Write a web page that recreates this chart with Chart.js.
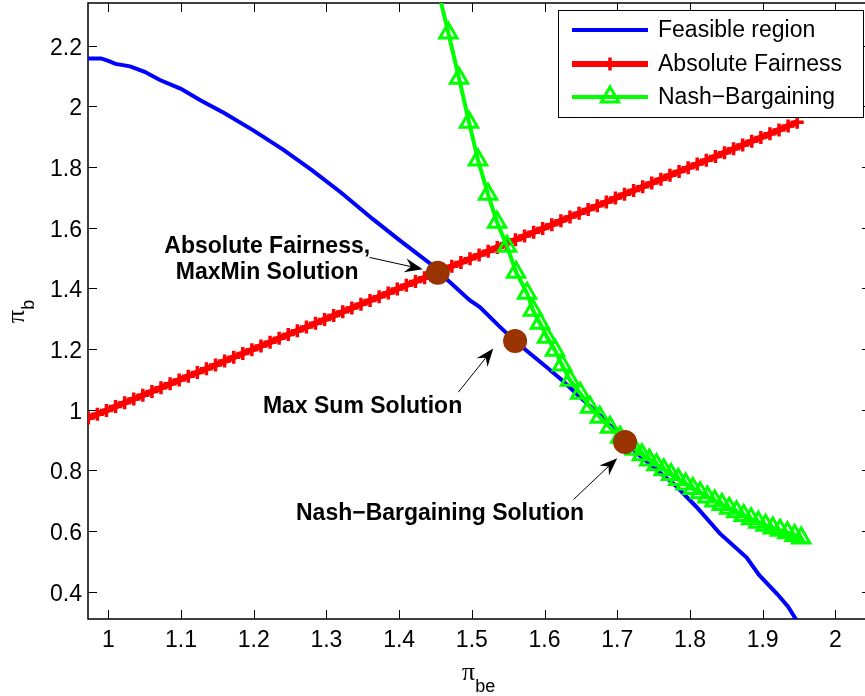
<!DOCTYPE html>
<html>
<head>
<meta charset="utf-8">
<script src="https://cdn.jsdelivr.net/npm/chart.js@4.4.1/dist/chart.umd.min.js"></script>
<style>
  html, body { margin: 0; padding: 0; background: #fff; overflow: hidden; }
  #wrap { position: relative; width: 880px; height: 696px; }
</style>
</head>
<body>
<div id="wrap"><canvas id="chart"></canvas></div>
<script>
// feasible region boundary (blue)
const feasibleX = [0.96, 0.99, 1.00, 1.01, 1.03, 1.05, 1.071, 1.10, 1.126, 1.16, 1.20, 1.24, 1.28, 1.32, 1.364,
  1.40, 1.442, 1.4531, 1.47, 1.497, 1.511, 1.539, 1.5595, 1.58, 1.603, 1.625, 1.649, 1.675, 1.6998, 1.7275,
  1.76, 1.78, 1.809, 1.841, 1.878, 1.895, 1.92, 1.935, 1.948, 1.955];
const feasibleY = [2.158, 2.158, 2.150, 2.140, 2.132, 2.114, 2.087, 2.058, 2.021, 1.977, 1.920, 1.858, 1.790, 1.716, 1.628,
  1.560, 1.483, 1.455, 1.420, 1.361, 1.338, 1.272, 1.226, 1.185, 1.140, 1.095, 1.041, 0.985, 0.925, 0.855,
  0.790, 0.750, 0.679, 0.592, 0.512, 0.455, 0.392, 0.350, 0.300, 0.280];

// absolute fairness line (red)
const fairX = [0.9600, 0.9725, 0.9850, 0.9975, 1.0100, 1.0225, 1.0350, 1.0475, 1.0600, 1.0725, 1.0850, 1.0975,
  1.1100, 1.1225, 1.1350, 1.1475, 1.1600, 1.1725, 1.1850, 1.1975, 1.2100, 1.2225, 1.2350, 1.2475, 1.2600, 1.2725,
  1.2850, 1.2975, 1.3100, 1.3225, 1.3350, 1.3475, 1.3600, 1.3725, 1.3850, 1.3975, 1.4100, 1.4225, 1.4350, 1.4475,
  1.4600, 1.4725, 1.4850, 1.4975, 1.5100, 1.5225, 1.5350, 1.5475, 1.5600, 1.5725, 1.5850, 1.5975, 1.6100, 1.6225,
  1.6350, 1.6475, 1.6600, 1.6725, 1.6850, 1.6975, 1.7100, 1.7225, 1.7350, 1.7475, 1.7600, 1.7725, 1.7850, 1.7975,
  1.8100, 1.8225, 1.8350, 1.8475, 1.8600, 1.8725, 1.8850, 1.8975, 1.9100, 1.9225, 1.9350, 1.9475];
const fairY = [0.9600, 0.9725, 0.9850, 0.9975, 1.0100, 1.0225, 1.0350, 1.0475, 1.0600, 1.0725, 1.0850, 1.0975,
  1.1100, 1.1225, 1.1350, 1.1475, 1.1600, 1.1725, 1.1850, 1.1975, 1.2100, 1.2225, 1.2350, 1.2475, 1.2600, 1.2725,
  1.2850, 1.2975, 1.3100, 1.3225, 1.3350, 1.3475, 1.3600, 1.3725, 1.3850, 1.3975, 1.4100, 1.4225, 1.4350, 1.4475,
  1.4600, 1.4725, 1.4850, 1.4975, 1.5100, 1.5225, 1.5350, 1.5475, 1.5600, 1.5725, 1.5850, 1.5975, 1.6100, 1.6225,
  1.6350, 1.6475, 1.6600, 1.6725, 1.6850, 1.6975, 1.7100, 1.7225, 1.7350, 1.7475, 1.7600, 1.7725, 1.7850, 1.7975,
  1.8100, 1.8225, 1.8350, 1.8475, 1.8600, 1.8725, 1.8850, 1.8975, 1.9100, 1.9225, 1.9350, 1.9475];

// nash bargaining curve (green)
const nashX = [1.452, 1.4677, 1.4824, 1.4961, 1.5085, 1.5223, 1.5347, 1.5484, 1.5608, 1.5759, 1.5841, 1.5937,
  1.6034, 1.6144, 1.624, 1.635, 1.649, 1.6625, 1.676, 1.690, 1.704, 1.714, 1.724, 1.734, 1.744, 1.754, 1.764,
  1.774, 1.784, 1.794, 1.804, 1.814, 1.824, 1.834, 1.844, 1.854, 1.864, 1.874, 1.884, 1.894, 1.904, 1.914,
  1.924, 1.934, 1.944, 1.953];
const nashY = [2.400, 2.242, 2.093, 1.948, 1.823, 1.710, 1.618, 1.539, 1.453, 1.384, 1.328, 1.285,
  1.239, 1.196, 1.147, 1.097, 1.054, 1.008, 0.975, 0.942, 0.909, 0.888, 0.869, 0.851, 0.834, 0.818, 0.802,
  0.786, 0.770, 0.755, 0.740, 0.726, 0.712, 0.699, 0.687, 0.675, 0.663, 0.651, 0.640, 0.629, 0.619, 0.610,
  0.602, 0.594, 0.585, 0.577];

// the three solution points
const solutionX = [1.4531, 1.5595, 1.7107];
const solutionY = [1.451, 1.226, 0.8935];

const xTicks = [1, 1.1, 1.2, 1.3, 1.4, 1.5, 1.6, 1.7, 1.8, 1.9, 2];
const xTickLabels = ['1', '1.1', '1.2', '1.3', '1.4', '1.5', '1.6', '1.7', '1.8', '1.9', '2'];
const yTicks = [0.4, 0.6, 0.8, 1, 1.2, 1.4, 1.6, 1.8, 2, 2.2];
const yTickLabels = ['0.4', '0.6', '0.8', '1', '1.2', '1.4', '1.6', '1.8', '2', '2.2'];

const seriesLabels = ['Feasible region', 'Absolute Fairness', 'Nash\u2212Bargaining'];
const noteTexts = [['Absolute Fairness,', 'MaxMin Solution'], ['Max Sum Solution'], ['Nash\u2212Bargaining Solution']];

const FONT = '"Liberation Sans", Arial, Helvetica, sans-serif';

// annotation anchors, in data units
const notes = [
  { x: 1.2186, y: 1.516, gap: 26 },
  { x: 1.3497, y: 0.988, gap: 26 },
  { x: 1.4563, y: 0.635, gap: 26 },
];
const arrows = [
  { from: [1.3595, 1.5018], to: [1.4325, 1.463] },
  { from: [1.4814, 1.0575], to: [1.5295, 1.2017] },
  { from: [1.640, 0.704], to: [1.700, 0.840] },
];

const pts = (xs, ys) => xs.map((x, i) => ({ x, y: ys[i] }));

function drawArrow(ctx, x0, y0, x1, y1) {
  const ang = Math.atan2(y1 - y0, x1 - x0);
  const c = Math.cos(ang);
  const s = Math.sin(ang);
  const L = 18; const W = 7; const N = 12;
  const at = (along, across) => [x1 - along * c - across * s, y1 - along * s + across * c];
  ctx.beginPath();
  ctx.moveTo(x0, y0);
  ctx.lineTo(...at(N, 0));
  ctx.stroke();
  ctx.beginPath();
  ctx.moveTo(x1, y1);
  ctx.lineTo(...at(L, W));
  ctx.lineTo(...at(N, 0));
  ctx.lineTo(...at(L, -W));
  ctx.closePath();
  ctx.fill();
}

// axes box with inward ticks and tick labels, matlab style
const framePlugin = {
  id: 'frame',
  beforeDatasetsDraw(chart) {
    const { ctx, chartArea: a, scales: { x, y } } = chart;
    ctx.save();
    ctx.strokeStyle = '#000';
    ctx.lineWidth = 1;
    ctx.beginPath();
    xTicks.forEach((v) => {
      const px = Math.round(x.getPixelForValue(v)) + 0.5;
      ctx.moveTo(px, a.bottom); ctx.lineTo(px, a.bottom - 9);
      ctx.moveTo(px, a.top); ctx.lineTo(px, a.top + 9);
    });
    yTicks.forEach((v) => {
      const py = Math.round(y.getPixelForValue(v)) + 0.5;
      ctx.moveTo(a.left, py); ctx.lineTo(a.left + 9, py);
      ctx.moveTo(a.right, py); ctx.lineTo(a.right - 9, py);
    });
    ctx.stroke();
    ctx.lineWidth = 1.5;
    ctx.strokeRect(a.left, a.top, a.right - a.left, a.bottom - a.top);

    ctx.fillStyle = '#000';
    ctx.font = `23px ${FONT}`;
    ctx.textAlign = 'center';
    ctx.textBaseline = 'alphabetic';
    xTicks.forEach((v, i) => ctx.fillText(xTickLabels[i], x.getPixelForValue(v), a.bottom + 28));
    ctx.textAlign = 'right';
    yTicks.forEach((v, i) => ctx.fillText(yTickLabels[i], a.left - 6, y.getPixelForValue(v) + 9));
    ctx.restore();
  },
};

const overlayPlugin = {
  id: 'overlay',
  afterDatasetsDraw(chart) {
    const { ctx, chartArea: a, scales: { x, y } } = chart;
    ctx.save();

    // arrows
    ctx.strokeStyle = '#000';
    ctx.fillStyle = '#000';
    ctx.lineWidth = 1;
    arrows.forEach((ar) => {
      drawArrow(ctx, x.getPixelForValue(ar.from[0]), y.getPixelForValue(ar.from[1]),
        x.getPixelForValue(ar.to[0]), y.getPixelForValue(ar.to[1]));
    });

    // bold notes
    ctx.font = `bold 23px ${FONT}`;
    ctx.textAlign = 'center';
    ctx.textBaseline = 'alphabetic';
    notes.forEach((n, i) => {
      const px = x.getPixelForValue(n.x);
      const py = y.getPixelForValue(n.y);
      noteTexts[i].forEach((line, j) => ctx.fillText(line, px, py + j * n.gap));
    });

    // legend
    const ds = chart.data.datasets;
    const box = { left: 558, top: 10, right: a.right - 8, bottom: 117 };
    ctx.fillStyle = '#fff';
    ctx.fillRect(box.left, box.top, box.right - box.left, box.bottom - box.top);
    ctx.strokeStyle = '#000';
    ctx.lineWidth = 1;
    ctx.strokeRect(box.left + 0.5, box.top + 0.5, box.right - box.left, box.bottom - box.top);
    const rows = [30, 64, 97];
    ctx.font = `23px ${FONT}`;
    ctx.textAlign = 'left';
    ctx.textBaseline = 'middle';
    for (let i = 0; i < 3; i += 1) {
      const d = ds[i];
      const ry = rows[i];
      ctx.strokeStyle = d.borderColor;
      ctx.lineWidth = d.borderWidth;
      ctx.beginPath();
      ctx.moveTo(572, ry);
      ctx.lineTo(648, ry);
      ctx.stroke();
      if (d.pointRadius > 0) {
        ctx.strokeStyle = d.pointBorderColor;
        ctx.fillStyle = d.pointBackgroundColor;
        ctx.lineWidth = d.pointBorderWidth;
        Chart.helpers.drawPoint(ctx, { pointStyle: d.pointStyle, radius: d.pointRadius, rotation: 0, borderWidth: d.pointBorderWidth }, 610, ry);
      }
      ctx.fillStyle = '#000';
      ctx.fillText(d.label, 658, ry + 1);
    }

    // axis titles with subscripts
    ctx.fillStyle = '#000';
    ctx.textBaseline = 'alphabetic';
    ctx.textAlign = 'left';
    const cx = 462;
    ctx.font = '26px "Liberation Serif", serif';
    ctx.fillText('\u03c0', cx, 680);
    const pw = ctx.measureText('\u03c0').width;
    ctx.font = `18px ${FONT}`;
    ctx.fillText('be', cx + pw, 692);

    ctx.translate(24, (a.top + a.bottom) / 2 + 12);
    ctx.rotate(-Math.PI / 2);
    ctx.font = '26px "Liberation Serif", serif';
    ctx.fillText('\u03c0', 0, 0);
    const pw2 = ctx.measureText('\u03c0').width;
    ctx.font = `18px ${FONT}`;
    ctx.fillText('b', pw2, 10);
    ctx.restore();
  },
};

new Chart(document.getElementById('chart'), {
  type: 'scatter',
  data: {
    datasets: [
      {
        label: seriesLabels[0],
        data: pts(feasibleX, feasibleY),
        showLine: true,
        borderColor: '#0000ff',
        borderWidth: 4,
        pointRadius: 0,
        tension: 0,
        clip: 0,
        order: 3,
      },
      {
        label: seriesLabels[1],
        data: pts(fairX, fairY),
        showLine: true,
        borderColor: '#ff0000',
        borderWidth: 6,
        pointStyle: 'cross',
        pointRadius: 6.5,
        pointBorderWidth: 3.5,
        pointBorderColor: '#ff0000',
        pointBackgroundColor: '#ff0000',
        clip: 0,
        order: 2,
      },
      {
        label: seriesLabels[2],
        data: pts(nashX, nashY),
        showLine: true,
        borderColor: '#00ff00',
        borderWidth: 4,
        pointStyle: 'triangle',
        pointRadius: 10,
        pointBorderWidth: 3,
        pointBorderColor: '#00ff00',
        pointBackgroundColor: 'rgba(0,0,0,0)',
        clip: 0,
        order: 1,
      },
      {
        label: 'Solutions',
        data: pts(solutionX, solutionY),
        showLine: false,
        pointRadius: 12,
        pointBorderWidth: 0,
        pointBackgroundColor: '#993300',
        pointBorderColor: '#993300',
        borderWidth: 0,
        clip: 0,
        order: 0,
      },
    ],
  },
  plugins: [framePlugin, overlayPlugin],
  options: {
    responsive: true,
    maintainAspectRatio: false,
    animation: false,
    events: [],
    layout: { autoPadding: false, padding: { top: 3, right: 9, left: 0, bottom: 0 } },
    plugins: {
      legend: { display: false },
      tooltip: { enabled: false },
    },
    scales: {
      x: {
        type: 'linear',
        min: 0.9721,
        max: 2.049,
        afterBuildTicks: (scale) => { scale.ticks = xTicks.map((value) => ({ value })); },
        afterFit: (scale) => { scale.height = 77; },
        grid: { display: false, drawTicks: false },
        border: { display: false },
        ticks: { display: false },
      },
      y: {
        type: 'linear',
        min: 0.3096,
        max: 2.3409,
        afterBuildTicks: (scale) => { scale.ticks = yTicks.map((value) => ({ value })); },
        afterFit: (scale) => { scale.width = 88; },
        grid: { display: false, drawTicks: false },
        border: { display: false },
        ticks: { display: false },
      },
    },
  },
});
</script>
</body>
</html>
